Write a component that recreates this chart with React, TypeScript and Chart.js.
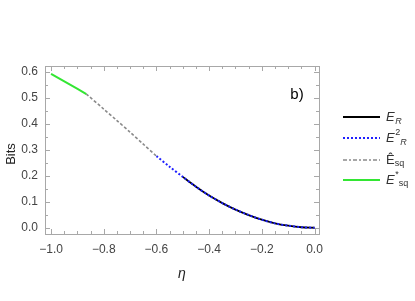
import React, { useEffect, useRef } from "react";
import { Chart, registerables } from "chart.js";

Chart.register(...registerables);

// ---- data ----
const etaER = [-0.5, -0.45, -0.4, -0.35, -0.3, -0.25, -0.2, -0.15, -0.1, -0.05, 0];
const bitsER = [0.196, 0.158, 0.124, 0.095, 0.07, 0.049, 0.031, 0.017, 0.008, 0.002, 0];

const etaE2R = [-0.6, -0.55, -0.5, -0.45, -0.4, -0.35, -0.3, -0.25, -0.2, -0.15, -0.1, -0.05, 0];
const bitsE2R = [0.276, 0.235, 0.196, 0.158, 0.124, 0.095, 0.07, 0.049, 0.031, 0.017, 0.008, 0.002, 0];

const etaEsqHat = [-0.866, -0.8, -0.75, -0.7, -0.65, -0.6];
const bitsEsqHat = [0.515, 0.457, 0.413, 0.368, 0.322, 0.276];

const etaEsqStar = [-1.0, -0.933, -0.866];
const bitsEsqStar = [0.593, 0.554, 0.515];

const xTicks = [-1.0, -0.8, -0.6, -0.4, -0.2, 0.0];
const yTicks = [0.0, 0.1, 0.2, 0.3, 0.4, 0.5, 0.6];

const FONT = "'Liberation Sans', Arial, sans-serif";

const pts = (xs: number[], ys: number[]) => xs.map((x, i) => ({ x, y: ys[i] }));
const fmt = (v: number) => {
  const s = Math.abs(v).toFixed(1);
  return v < -1e-9 ? "\u2212" + s : s;
};

type Part = { t: string; it?: boolean; s?: number; dy?: number };

function drawRich(ctx: CanvasRenderingContext2D, parts: Part[], x: number, y: number) {
  let cx = x;
  for (const p of parts) {
    const size = p.s ?? 13;
    ctx.font = `${p.it ? "italic " : ""}${size}px ${FONT}`;
    ctx.fillText(p.t, cx, y + (p.dy ?? 0));
    cx += ctx.measureText(p.t).width + (p.it ? 0.5 : 0);
  }
}

const legendItems = [
  { color: "#000000", dash: [] as number[], width: 2, parts: [{ t: "E", it: true }, { t: "R", it: true, s: 9, dy: 4 }] },
  { color: "#2020ff", dash: [2, 2], width: 2, parts: [{ t: "E", it: true }, { t: "2", s: 9, dy: -5 }, { t: "R", it: true, s: 9, dy: 4 }] },
  { color: "#8a8a8a", dash: [4, 2, 2, 2], width: 1.6, parts: [{ t: "\u00CA" }, { t: "sq", s: 9, dy: 4 }] },
  { color: "#33e633", dash: [] as number[], width: 2, parts: [{ t: "E", it: true }, { t: "*", s: 9, dy: -5 }, { t: "sq", s: 9, dy: 4 }] },
];

const framePlugin = {
  id: "mmaFrame",
  beforeDatasetsDraw(chart: any) {
    const { ctx, chartArea: a, scales } = chart;
    const x = scales.x;
    const y = scales.y;
    ctx.save();
    ctx.strokeStyle = "#a8a8a8";
    ctx.lineWidth = 1;
    ctx.strokeRect(Math.round(a.left) + 0.5, Math.round(a.top) + 0.5, Math.round(a.right - a.left), Math.round(a.bottom - a.top));
    ctx.beginPath();
    for (let k = -20; k <= 0; k++) {
      const v = k * 0.05;
      const major = Math.abs(k % 4) === 0;
      const len = major ? 5 : 3;
      const px = Math.round(x.getPixelForValue(v)) + 0.5;
      ctx.moveTo(px, a.bottom);
      ctx.lineTo(px, a.bottom - len);
      ctx.moveTo(px, a.top);
      ctx.lineTo(px, a.top + len);
    }
    for (let k = 0; k <= 12; k++) {
      const v = k * 0.05;
      const major = k % 2 === 0;
      const len = major ? 5 : 3;
      const py = Math.round(y.getPixelForValue(v)) + 0.5;
      ctx.moveTo(a.left, py);
      ctx.lineTo(a.left + len, py);
      ctx.moveTo(a.right, py);
      ctx.lineTo(a.right - len, py);
    }
    ctx.stroke();
    ctx.restore();
  },
  afterDraw(chart: any) {
    const { ctx, chartArea: a } = chart;
    ctx.save();
    // axis titles
    ctx.fillStyle = "#222";
    ctx.textAlign = "center";
    ctx.textBaseline = "middle";
    ctx.font = `13px ${FONT}`;
    ctx.save();
    ctx.translate(11, (a.top + a.bottom) / 2 + 4);
    ctx.rotate(-Math.PI / 2);
    ctx.fillText("Bits", 0, 0);
    ctx.restore();
    ctx.font = `italic 14px ${FONT}`;
    ctx.fillText("\u03B7", (a.left + a.right) / 2, 274);
    // panel label
    ctx.font = `15px ${FONT}`;
    ctx.fillStyle = "#000";
    ctx.fillText("b)", 297, 95);
    // legend
    ctx.textAlign = "left";
    ctx.textBaseline = "middle";
    const ys = [117, 138, 160, 180];
    legendItems.forEach((it, i) => {
      const ly = ys[i];
      ctx.strokeStyle = it.color;
      ctx.lineWidth = it.width;
      ctx.setLineDash(it.dash);
      ctx.beginPath();
      ctx.moveTo(343, ly);
      ctx.lineTo(380, ly);
      ctx.stroke();
      ctx.setLineDash([]);
      ctx.fillStyle = "#333";
      drawRich(ctx, it.parts, 386, ly);
    });
    ctx.restore();
  },
};

export default function App() {
  const ref = useRef<HTMLCanvasElement | null>(null);
  useEffect(() => {
    document.body.style.margin = "0";
    const canvas = ref.current;
    if (!canvas) return;
    const common = { pointRadius: 0, fill: false, tension: 0.3 };
    const chart = new Chart(canvas, {
      type: "line",
      data: {
        datasets: [
          { ...common, label: "Ê_sq", data: pts(etaEsqHat, bitsEsqHat), borderColor: "#8a8a8a", borderWidth: 1.6, borderDash: [3, 2] },
          { ...common, label: "E*_sq", data: pts(etaEsqStar, bitsEsqStar), borderColor: "#33e633", borderWidth: 2 },
          { ...common, label: "E2_R", data: pts(etaE2R, bitsE2R), borderColor: "#2020ff", borderWidth: 2, borderDash: [2, 2] },
          { ...common, label: "E_R", data: pts(etaER, bitsER), borderColor: "#000000", borderWidth: 1.8 },
        ],
      },
      options: {
        responsive: false,
        animation: false,
        devicePixelRatio: 1,
        layout: { padding: { top: 66, right: 96, left: 0, bottom: 0 } },
        plugins: { legend: { display: false }, tooltip: { enabled: false } },
        scales: {
          x: {
            type: "linear",
            min: -1.023,
            max: 0.017,
            grid: { display: false, drawTicks: false },
            border: { display: false },
            afterBuildTicks: (s: any) => {
              s.ticks = xTicks.map((v) => ({ value: v }));
            },
            afterFit: (s: any) => {
              s.height = 67;
            },
            ticks: {
              padding: 8,
              autoSkip: false,
              maxRotation: 0,
              color: "#444",
              font: { family: FONT, size: 12 },
              callback: (v: any) => fmt(Number(v)),
            },
          },
          y: {
            type: "linear",
            min: -0.024,
            max: 0.623,
            grid: { display: false, drawTicks: false },
            border: { display: false },
            afterBuildTicks: (s: any) => {
              s.ticks = yTicks.map((v) => ({ value: v }));
            },
            afterFit: (s: any) => {
              s.width = 45;
            },
            ticks: {
              padding: 7,
              autoSkip: false,
              color: "#444",
              font: { family: FONT, size: 12 },
              callback: (v: any) => fmt(Number(v)),
            },
          },
        },
      },
      plugins: [framePlugin],
    });
    return () => chart.destroy();
  }, []);
  return (
    <div style={{ width: 415, height: 301, background: "#fff" }}>
      <canvas ref={ref} width={415} height={301} style={{ display: "block" }} />
    </div>
  );
}
